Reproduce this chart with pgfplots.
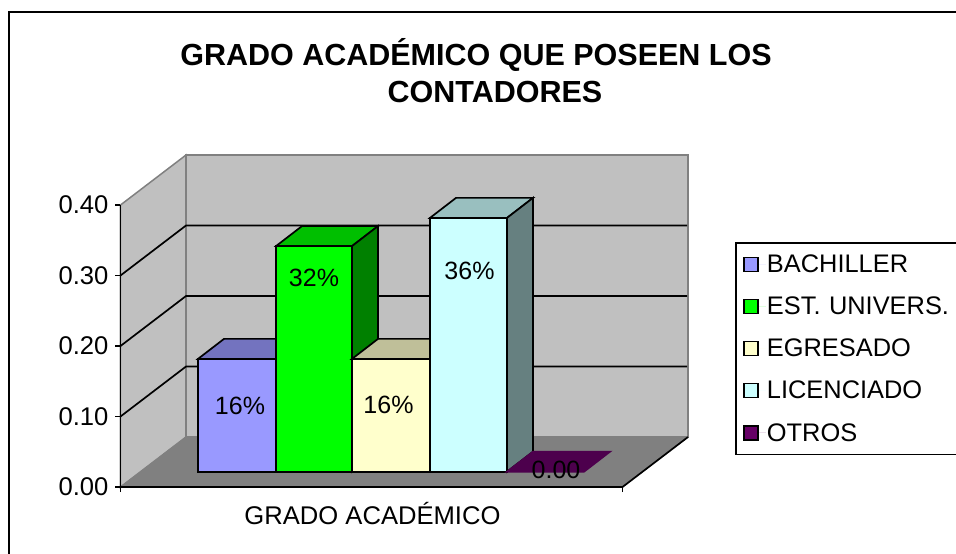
\documentclass[border=0pt]{standalone}
\usepackage{fontspec}
\setmainfont{Liberation Sans}
\usepackage{pgfplots}
\pgfplotsset{compat=1.18}
\definecolor{Wall}{HTML}{C0C0C0}
\definecolor{Floor}{HTML}{808080}
\definecolor{BarBlue}{HTML}{9999FF}
\definecolor{TopBlue}{HTML}{7373BF}
\definecolor{BarGreen}{HTML}{00FF00}
\definecolor{TopGreen}{HTML}{00BF00}
\definecolor{SideGreen}{HTML}{008000}
\definecolor{BarYellow}{HTML}{FFFFCC}
\definecolor{TopYellow}{HTML}{BFBF99}
\definecolor{BarCyan}{HTML}{CCFFFF}
\definecolor{TopCyan}{HTML}{99BFBF}
\definecolor{SideCyan}{HTML}{668080}
\definecolor{BarPurple}{HTML}{660066}
\definecolor{TopPurple}{HTML}{4D004D}

\begin{document}
\begin{tikzpicture}[x=1pt,y=1pt]
\begin{axis}[
  scale only axis,width=502pt,height=282pt,
  xmin=120.5,xmax=622.5,ymin=0,ymax=0.4,
  clip=false,axis on top,
  axis x line=bottom,axis y line=left,
  axis line style={-,black,line width=1.8pt},
  xtick={120.5,622.5},xticklabels={},
  ytick={0,0.1,0.2,0.3,0.4},
  tick align=outside,major tick length=5pt,
  tick style={black,line width=1.6pt},
  yticklabel style={/pgf/number format/.cd,fixed,fixed zerofill,precision=2,assume math mode=true},
  tick label style={font=\fontsize{25.6}{26}\selectfont},
  ytick pos=left,
  yticklabel shift=3.5pt,
  xlabel={GRADO ACADÉMICO},
  xlabel style={font=\fontsize{25.6}{26}\selectfont,at={(axis description cs:0.5,0)},anchor=center,yshift=-27pt,xshift=1pt},
  legend style={at={(axis cs:735,0.3475)},anchor=north west,draw=black,line width=1.6pt,fill=white,
    font=\fontsize{25.4}{26}\selectfont,row sep=20.9pt,inner xsep=7.5pt,inner ysep=11pt,
    text width=200pt,
    nodes={inner sep=1pt}},
  legend cell align=left,
  legend image code/.code={\path[draw=none] (0pt,0pt) -- (22pt,0pt);\draw[line width=1.3pt,#1] (0pt,-7pt) rectangle (14pt,7pt);}
]
% legend entries
\addlegendimage{fill=BarBlue,draw=black}\addlegendentry{BACHILLER}
\addlegendimage{fill=BarGreen,draw=black}\addlegendentry{EST. UNIVERS.}
\addlegendimage{fill=BarYellow,draw=black}\addlegendentry{EGRESADO}
\addlegendimage{fill=BarCyan,draw=black}\addlegendentry{LICENCIADO}
\addlegendimage{fill=BarPurple,draw=black}\addlegendentry{OTROS}

% walls and floor
\addplot[forget plot,fill=Wall,draw=Floor,line width=1.5pt] coordinates {(120.5,0)(120.5,0.4)(186,0.4709)(186,0.0709)} --cycle;
\addplot[forget plot,fill=Wall,draw=Floor,line width=1.5pt] coordinates {(186,0.0709)(186,0.4709)(688,0.4709)(688,0.0709)} --cycle;
\addplot[forget plot,fill=Floor,draw=Floor,line width=0.8pt] coordinates {(120.5,0)(186,0.0709)(688,0.0709)(622.5,0)} --cycle;
\addplot[forget plot,black,line width=1.7pt] coordinates {(622.5,0)(688,0.0709)};
% gridlines
\addplot[forget plot,black,line width=1.7pt] coordinates {(120.5,0.1)(186,0.1709)(687,0.1709)};
\addplot[forget plot,black,line width=1.7pt] coordinates {(120.5,0.2)(186,0.2709)(687,0.2709)};
\addplot[forget plot,black,line width=1.7pt] coordinates {(120.5,0.3)(186,0.3709)(687,0.3709)};

% bars: front x range in px, height = value, depth 26 px / 20 px
\pgfplotsset{bar/.style={forget plot,draw=black,line width=1.7pt,yshift=15.3pt}}
% BACHILLER 0.16
\addplot[bar,fill=TopBlue] coordinates {(198,0.16)(224,0.1884)(302,0.1884)(276,0.16)} --cycle;
\addplot[bar,fill=BarBlue] coordinates {(198,0)(198,0.16)(276,0.16)(276,0)} --cycle;
% EST. UNIVERS. 0.32
\addplot[bar,fill=TopGreen] coordinates {(276,0.32)(302,0.3484)(378,0.3484)(352,0.32)} --cycle;
\addplot[bar,fill=SideGreen] coordinates {(352,0)(378,0.0284)(378,0.3484)(352,0.32)} --cycle;
\addplot[bar,fill=BarGreen] coordinates {(276,0)(276,0.32)(352,0.32)(352,0)} --cycle;
% EGRESADO 0.16
\addplot[bar,fill=TopYellow] coordinates {(352,0.16)(378,0.1884)(456,0.1884)(430,0.16)} --cycle;
\addplot[bar,fill=BarYellow] coordinates {(352,0)(352,0.16)(430,0.16)(430,0)} --cycle;
% LICENCIADO 0.36
\addplot[bar,fill=TopCyan] coordinates {(430,0.36)(456,0.3884)(533,0.3884)(507,0.36)} --cycle;
\addplot[bar,fill=SideCyan] coordinates {(507,0)(533,0.0284)(533,0.3884)(507,0.36)} --cycle;
\addplot[bar,fill=BarCyan] coordinates {(430,0)(430,0.36)(507,0.36)(507,0)} --cycle;
% OTROS 0.00
\addplot[bar,fill=TopPurple,draw=TopPurple] coordinates {(507,0)(533,0.0284)(610,0.0284)(584,0)} --cycle;

% data labels
\begin{scope}[every node/.style={font=\fontsize{25}{25}\selectfont}]
\node at (axis cs:240,0.1149) {16\%};
\node at (axis cs:314,0.2965) {32\%};
\node at (axis cs:388.5,0.1163) {16\%};
\node at (axis cs:469.5,0.3064) {36\%};
\node at (axis cs:556,0.0241) {0.00};
\end{scope}
% title
\node[font=\fontsize{30.5}{31}\selectfont\bfseries] at (axis cs:476,0.6128) {GRADO ACADÉMICO QUE POSEEN LOS};
\node[font=\fontsize{30.5}{31}\selectfont\bfseries] at (axis cs:495,0.5603) {CONTADORES};
% chart frame, open on the right and at the bottom
\draw[black,line width=2pt] (axis cs:9,-0.0950) -- (axis cs:9,0.6738) -- (axis cs:956,0.6738);
\coordinate (tl) at (axis cs:0,0.6908);
\coordinate (br) at (axis cs:956,-0.0950);
\end{axis}
\pgfresetboundingbox
\path[use as bounding box] (tl) rectangle (br);
\end{tikzpicture}
\end{document}
